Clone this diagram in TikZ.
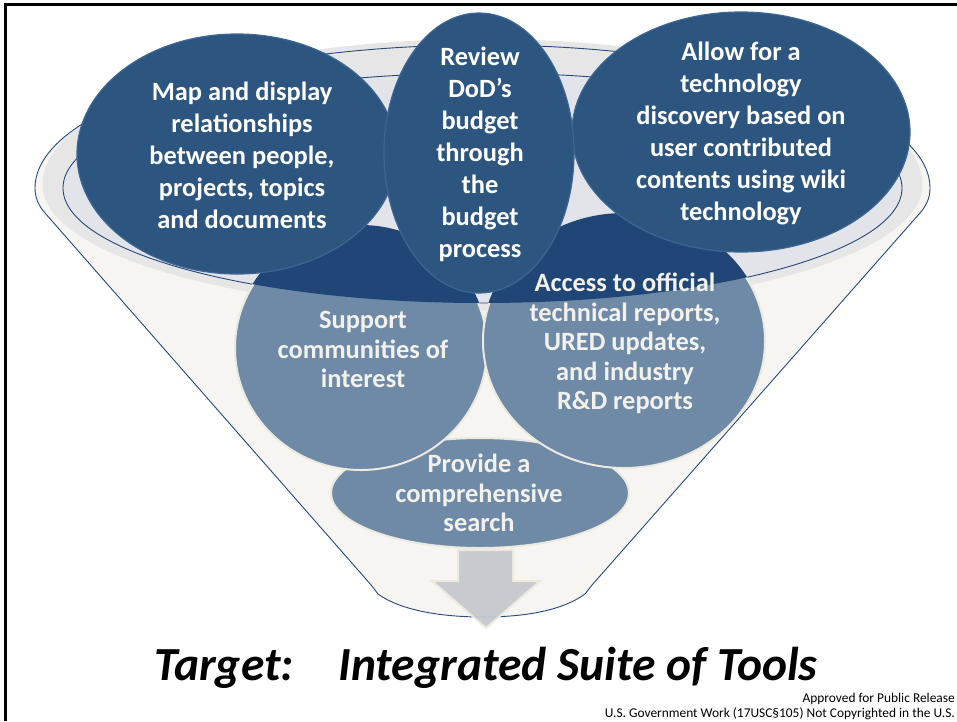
\documentclass[tikz,border=0pt]{standalone}
\usepackage{fontspec}
\setmainfont{Carlito}
\usetikzlibrary{shapes.geometric}
\definecolor{topblue}{HTML}{2C5580}
\definecolor{topedge}{HTML}{3E6694}
\definecolor{darkin}{HTML}{1F4677}
\definecolor{lowblue}{HTML}{6F8AA7}
\definecolor{cream}{HTML}{ECE9DF}
\definecolor{conefill}{HTML}{F6F5F1}
\definecolor{rimgrey}{HTML}{E6E6E6}
\definecolor{innerfill}{HTML}{E2E4EA}
\definecolor{outline}{HTML}{24497B}
\definecolor{arrowgrey}{HTML}{C4C7CD}
\definecolor{lowtextc}{HTML}{F3F1EB}
\tikzset{
  topbubble/.style={ellipse, fill=topblue, draw=topedge, line width=1.2pt, inner sep=0pt},
  lowbubble/.style={ellipse, fill=lowblue, draw=cream, line width=2pt, inner sep=0pt},
  toptext/.style={text=white, font=\fontsize{26.4}{32}\selectfont\bfseries, align=center, inner sep=0pt},
  lowtext/.style={text=lowtextc, font=\fontsize{26.4}{29.5}\selectfont\bfseries, align=center, inner sep=0pt},
  funnelline/.style={draw=outline, line width=0.9pt},
  framerule/.style={draw=black, line width=2.7pt}
}
\begin{document}
\begin{tikzpicture}[x=1pt,y=-1pt]
\useasboundingbox (0,0) rectangle (957,721);
% frame
\coordinate (ftr) at (957,4.7);
\coordinate (ftl) at (5.5,3.4);
\coordinate (fbl) at (5.5,721);
\draw[framerule] (ftr) -- (4.2,4.7);
\draw[framerule, line width=2.4pt] (ftl) -- (fbl);
% cone body
\fill[conefill] (45,213) .. controls (38,205) and (35,197) .. (35,188)
  arc[start angle=180, end angle=360, x radius=447.5, y radius=143]
  .. controls (930,197) and (927,205) .. (920,213) -- (592,585)
  .. controls (588,590) .. (585,594) .. controls (560,612) and (520,617) .. (483,617)
  .. controls (440,617) and (400,610) .. (378,594) .. controls (375,590) .. (372,586) -- cycle;
% rim band
\fill[rimgrey] (42.5,185) arc[start angle=180, end angle=360, x radius=440, y radius=146]
  arc[start angle=0, end angle=180, x radius=440, y radius=126] -- cycle;
% inner opening
\fill[innerfill] (482.5,188) ellipse [x radius=419.5, y radius=115];
\draw[funnelline] (482.5,188) ellipse [x radius=419.5, y radius=115];
% funnel outline
\draw[funnelline] (45,213) .. controls (38,205) and (35,197) .. (35,188)
  arc[start angle=180, end angle=360, x radius=447.5, y radius=143]
  .. controls (930,197) and (927,205) .. (920,213) -- (592,585)
  .. controls (588,590) .. (585,594) .. controls (560,612) and (520,617) .. (483,617)
  .. controls (440,617) and (400,610) .. (378,594) .. controls (375,590) .. (372,586) -- cycle;
% lower bubbles
\node[lowbubble, minimum width=298pt, minimum height=110pt] (prov) at (480,493) {};
\node[lowbubble, minimum width=252pt, minimum height=244pt] (supp) at (361,348) {};
\node[lowbubble, minimum width=282pt, minimum height=254pt] (acc) at (624,341) {};
\begin{scope}
  \clip (482.5,188) ellipse [x radius=419.5, y radius=115];
  \fill[darkin] (361,348) ellipse [x radius=127, y radius=123];
  \fill[darkin] (624,341) ellipse [x radius=142, y radius=128];
\end{scope}
% arrow
\draw[fill=arrowgrey, fill opacity=0.92, draw=cream, line width=2pt, line join=miter]
  (458,550) -- (513,550) -- (513,581) -- (540,581) -- (486,628) -- (432,581) -- (458,581) -- cycle;
% upper bubbles
\node[topbubble, minimum width=320pt, minimum height=240pt] (map) at (237,154) {};
\node[topbubble, minimum width=338pt, minimum height=240pt] (allow) at (741,132) {};
\node[topbubble, minimum width=190pt, minimum height=280pt] (rev) at (479,153) {};
% texts
\node[toptext] (tmap) at (242,155) {Map and display\\relationships\\between people,\\projects, topics\\and documents};
\node[toptext] (trev) at (480,154.5) {Review\\DoD’s\\budget\\through\\the\\budget\\process};
\node[toptext] (tallow) at (741,133.5) {Allow for a\\technology\\discovery based on\\user contributed\\contents using wiki\\technology};
\node[lowtext] (tsupp) at (363,349.5) {Support\\communities of\\interest};
\node[lowtext] (tacc) at (625,343.5) {Access to official\\technical reports,\\URED updates,\\and industry\\R\&D reports};
\node[lowtext] (tprov) at (479,493) {Provide a\\comprehensive\\search};
% title
\node[anchor=base west, inner sep=0pt, font=\fontsize{47.5}{52}\selectfont\bfseries\itshape] (title) at (154,680) {Target:\hspace{45pt}Integrated Suite of Tools};
% footer
\node[anchor=base east, inner sep=0pt, align=right, font=\fontsize{13.4}{15}\selectfont] (foot) at (955,717.5) {Approved for Public Release\\U.S. Government Work (17USC§105) Not Copyrighted in the U.S.};
\end{tikzpicture}
\end{document}
